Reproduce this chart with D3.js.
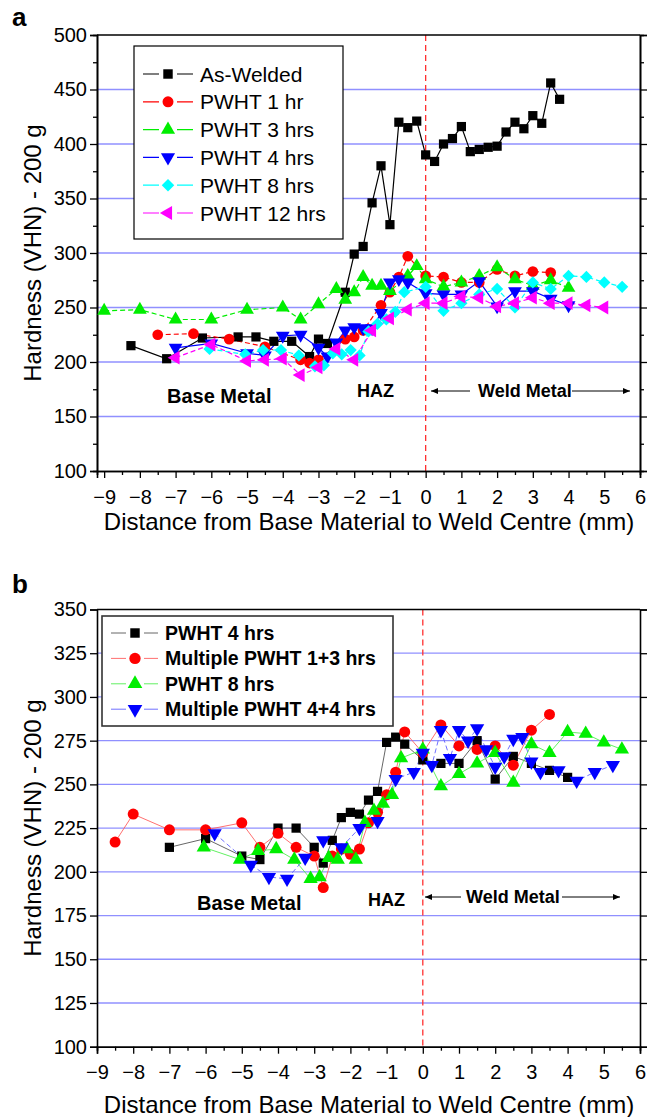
<!DOCTYPE html>
<html>
<head>
<meta charset="utf-8">
<script src="https://cdn.jsdelivr.net/npm/d3@7"></script>
<style>
  body { margin: 0; background: #fff; }
  svg { display: block; font-family: "Liberation Sans", Arial, sans-serif; }
</style>
</head>
<body>
<svg id="chart" width="656" height="1117"></svg>
<script>
// ---- panel a data: [distance mm, hardness VHN] ----
const asWelded = [[-8.25,215],[-7.25,203],[-6.25,222],[-5.25,223],[-4.75,223],[-4.25,219],[-3.75,219],[-3.25,205],[-3,221],[-2.75,217],[-2.25,264],[-2,299],[-1.75,306],[-1.5,346],[-1.25,380],[-1,326],[-0.75,420],[-0.5,415],[-0.25,421],[0,390],[0.25,384],[0.5,400],[0.75,405],[1,416],[1.25,393],[1.5,395],[1.75,397],[2,398],[2.25,411],[2.5,420],[2.75,414],[3,426],[3.25,419],[3.5,456],[3.75,441]];
const pwht1 = [[-7.5,225],[-6.5,226],[-5.5,221],[-4.5,214],[-3.5,202],[-3.25,199],[-3,202],[-2.25,221],[-2,223],[-1.75,229],[-1.25,252],[-1,264],[-0.75,278],[-0.5,297],[0,279],[0.5,278],[1,273],[1.5,273],[2,285],[2.5,279],[3,283],[3.5,282]];
const pwht3 = [[-9,247],[-8,248],[-7,239],[-6,239],[-5,248],[-4,250],[-3.5,239],[-3,253],[-2.5,267],[-2.25,257],[-2,264],[-1.75,278],[-1.5,270],[-1.25,270],[-1,265],[-0.5,279],[-0.25,288],[0,276],[0.5,269],[1,273],[1.5,279],[2,287],[2.5,276],[3,270],[3.5,275],[4,268]];
const pwht4 = [[-7,213],[-6,217],[-5,208],[-4.5,206],[-4,224],[-3.5,225],[-3,213],[-2.75,205],[-2.5,218],[-2.25,229],[-2,232],[-1.75,231],[-1.5,231],[-1.25,245],[-1,273],[-0.75,276],[-0.5,273],[0,263],[0.5,262],[1,262],[1.5,274],[2,251],[2.5,265],[3,265],[3.5,258],[4,252]];
const pwht8 = [[-6.05,212],[-5.05,207],[-4.55,211],[-4.05,211],[-3.55,206],[-3.1,196],[-2.85,197],[-2.6,208],[-2.35,207],[-2.1,211],[-1.85,206],[-1.6,228],[-1.35,235],[-1.1,239],[-0.85,246],[-0.6,264],[0,269],[0.5,247],[1,254],[1.5,262],[2,267],[2.5,250],[3,273],[3.5,267],[4,279],[4.5,278],[5,273],[5.5,269]];
const pwht12 = [[-7,204],[-6,216],[-5,201],[-4.5,202],[-4,203],[-3.5,188],[-3,195],[-2.5,212],[-2,202],[-1.5,229],[-1,240],[-0.5,248],[0,254],[0.5,254],[1,260],[1.5,259],[2,251],[2.5,254],[3,259],[3.5,254],[4,254],[4.5,252],[5,250]];

// ---- panel b data ----
const bPwht4 = [[-7,214],[-6,219],[-5,209],[-4.5,207],[-4,225],[-3.5,225],[-3,214],[-2.75,205],[-2.5,218],[-2.25,231],[-2,234],[-1.75,233],[-1.5,241],[-1.25,246],[-1,274],[-0.75,277],[-0.5,273],[0,264],[0.5,262],[1,262],[1.5,275],[2,253],[2.5,266],[3,262],[3.5,258],[4,254]];
const bMulti13 = [[-8.5,217],[-8,233],[-7,224],[-6,224],[-5,228],[-4.5,214],[-4,222],[-3.5,214],[-3,209],[-2.75,191],[-2.5,209],[-2.25,213],[-2,210],[-1.75,213],[-1.5,228],[-1.25,234],[-1,244],[-0.75,257],[-0.5,280],[0,268],[0.5,284],[1,272],[1.5,270],[2,272],[2.5,261],[3,281],[3.5,290]];
const bPwht8 = [[-6.05,214],[-5.05,207],[-4.55,212],[-4.05,213],[-3.55,207],[-3.1,196],[-2.85,197],[-2.6,208],[-2.35,207],[-2.1,213],[-1.85,207],[-1.6,228],[-1.35,235],[-1.1,239],[-0.85,244],[-0.6,265],[0,270],[0.5,249],[1,256],[1.5,262],[2,268],[2.5,251],[3,273],[3.5,268],[4,280],[4.5,279],[5,274],[5.5,270]];
const bMulti44 = [[-5.75,222],[-4.75,204],[-4.25,197],[-3.75,196],[-3.25,208],[-2.75,218],[-2.25,214],[-1.75,225],[-1.25,229],[-0.75,253],[-0.25,257],[0,268],[0.25,261],[0.5,281],[0.75,265],[1,281],[1.25,275],[1.5,282],[1.75,270],[2,260],[2.25,266],[2.5,276],[2.75,277],[3,263],[3.25,257],[3.75,258],[4.25,252],[4.75,257],[5.25,261]];

const xTicks = d3.range(-9, 7, 1);
const yTicksA = d3.range(100, 501, 50);
const yTicksB = d3.range(100, 351, 25);

const svg = d3.select("#chart");

function symbolPath(shape, size) {
  const type = shape === "circle" ? d3.symbolCircle :
    (shape === "square" || shape === "diamond") ? d3.symbolSquare : d3.symbolTriangle;
  return d3.symbol().type(type).size(size)();
}
function symbolRot(shape) {
  return shape === "down" ? 180 : shape === "left" ? -90 : shape === "diamond" ? 45 : 0;
}

function drawPanel(p) {
  const x = d3.scaleLinear().domain(p.xDomain).range([p.left, p.right]);
  const y = d3.scaleLinear().domain(p.yDomain).range([p.bottom, p.top]);
  const g = svg.append("g");

  // gridlines
  g.append("g").selectAll("line")
    .data(p.grid)
    .join("line")
    .attr("x1", p.left).attr("x2", p.right)
    .attr("y1", d => y(d)).attr("y2", d => y(d))
    .attr("stroke", "#9090ff").attr("stroke-width", 1.3);

  // weld centre line
  g.append("line")
    .attr("x1", x(0)).attr("x2", x(0))
    .attr("y1", p.top).attr("y2", p.bottom)
    .attr("stroke", "#ff3030").attr("stroke-width", 1.3)
    .attr("stroke-dasharray", "6,4");

  // axes
  g.append("g").attr("transform", `translate(${p.left},0)`)
    .call(d3.axisLeft(y).tickValues(p.yTicks).tickSize(7).tickPadding(3));
  g.append("g").attr("transform", `translate(${p.right},0)`)
    .call(d3.axisRight(y).tickValues(p.yTicks).tickSize(7).tickFormat(""));
  g.append("g").attr("transform", `translate(0,${p.bottom})`)
    .call(d3.axisBottom(x).tickValues(xTicks).tickSize(7).tickPadding(p.xPad));
  g.append("g").attr("transform", `translate(0,${p.bottom})`)
    .call(d3.axisBottom(x).tickValues(d3.range(-8.5, 6, 1)).tickSize(4).tickFormat(""));
  if (p.yMinor) {
    g.append("g").attr("transform", `translate(${p.left},0)`)
      .call(d3.axisLeft(y).tickValues(p.yMinor).tickSize(4).tickFormat(""));
    g.append("g").attr("transform", `translate(${p.right},0)`)
      .call(d3.axisRight(y).tickValues(p.yMinor).tickSize(4).tickFormat(""));
  }
  g.selectAll(".domain").attr("stroke", "#000").attr("stroke-width", 1.6);
  g.selectAll(".tick line").attr("stroke", "#000").attr("stroke-width", 1.3);
  g.selectAll(".tick text").attr("font-size", 20).attr("fill", "#000")
    .attr("font-family", "Liberation Sans, Arial, sans-serif");
  // top frame
  g.append("line").attr("x1", p.left).attr("x2", p.right)
    .attr("y1", p.top).attr("y2", p.top)
    .attr("stroke", "#000").attr("stroke-width", 1.6);

  // series
  const line = d3.line().x(d => x(d[0])).y(d => y(d[1]));
  p.series.forEach(s => {
    g.append("path").datum(s.data)
      .attr("d", line)
      .attr("fill", "none")
      .attr("stroke", s.lineColor || s.color)
      .attr("stroke-width", p.lineWidth)
      .attr("stroke-dasharray", s.dash || null);
  });
  p.series.forEach(s => {
    const sym = symbolPath(s.shape, s.size);
    const rot = symbolRot(s.shape);
    g.append("g").selectAll("path")
      .data(s.data)
      .join("path")
      .attr("d", sym)
      .attr("transform", d => `translate(${x(d[0])},${y(d[1])}) rotate(${rot})`)
      .attr("fill", s.color);
  });

  // legend
  const L = p.legend;
  g.append("rect")
    .attr("x", L.x).attr("y", L.y).attr("width", L.w).attr("height", L.h)
    .attr("fill", "#fff").attr("stroke", L.stroke).attr("stroke-width", L.strokeW);
  p.series.forEach((s, i) => {
    const cy = L.firstY + i * L.step;
    g.append("line").attr("x1", L.lineX0).attr("x2", L.lineX1)
      .attr("y1", cy).attr("y2", cy)
      .attr("stroke", s.lineColor || s.color).attr("stroke-width", p.lineWidth);
    g.append("rect").attr("x", L.markX - 9).attr("y", cy - 8).attr("width", 18).attr("height", 16).attr("fill", "#fff");
    g.append("path").attr("d", symbolPath(s.shape, s.size * 1.05))
      .attr("transform", `translate(${L.markX},${cy}) rotate(${symbolRot(s.shape)})`)
      .attr("fill", s.color);
    g.append("text").attr("x", L.textX).attr("y", cy)
      .attr("dy", "0.36em")
      .attr("font-size", L.fontSize)
      .attr("font-weight", L.bold ? "bold" : "normal")
      .text(s.name);
  });

  // axis titles
  g.append("text")
    .attr("transform", `translate(${p.yTitleX},${(p.top + p.bottom) / 2}) rotate(-90)`)
    .attr("text-anchor", "middle").attr("dy", "0.35em")
    .attr("font-size", 24)
    .text("Hardness (VHN) - 200 g");
  g.append("text")
    .attr("x", 369).attr("y", p.xTitleY)
    .attr("text-anchor", "middle").attr("dy", "0.35em")
    .attr("font-size", 24)
    .text("Distance from Base Material to Weld Centre (mm)");

  // panel letter
  g.append("text").attr("x", 12).attr("y", p.letterY)
    .attr("font-size", 26).attr("font-weight", "bold").text(p.letter);

  // region annotations
  const A = p.notes;
  g.append("text").attr("x", A.baseX).attr("y", A.baseY)
    .attr("font-size", 20).attr("font-weight", "bold").text("Base Metal");
  g.append("text").attr("x", A.hazX).attr("y", A.hazY)
    .attr("font-size", 18).attr("font-weight", "bold").text("HAZ");
  g.append("text").attr("x", A.weldX).attr("y", A.weldY)
    .attr("font-size", 18).attr("font-weight", "bold").text("Weld Metal");
  const ay = A.weldY - 6;
  [[A.arrL0, A.arrL1], [A.arrR0, A.arrR1]].forEach(([a, b]) => {
    g.append("line").attr("x1", a).attr("x2", b).attr("y1", ay).attr("y2", ay)
      .attr("stroke", "#000").attr("stroke-width", 1);
    const dir = b > a ? 1 : -1;
    g.append("path")
      .attr("d", `M${b},${ay} L${b - dir * 7},${ay - 3} L${b - dir * 7},${ay + 3} Z`)
      .attr("fill", "#000");
  });
}

drawPanel({
  letter: "a", letterY: 26,
  left: 97, right: 640, top: 35, bottom: 471,
  xDomain: [-9.2, 6], yDomain: [100, 500],
  yTicks: yTicksA, yMinor: d3.range(125, 500, 50),
  grid: [150, 200, 250, 300, 350, 400, 450],
  lineWidth: 1.2, xPad: 12,
  yTitleX: 33, xTitleY: 522,
  series: [
    { name: "As-Welded", data: asWelded, color: "#000", shape: "square", size: 85 },
    { name: "PWHT 1 hr", data: pwht1, color: "#ff0000", shape: "circle", size: 90, dash: "5,3" },
    { name: "PWHT 3 hrs", data: pwht3, color: "#00ee00", shape: "up", size: 82, dash: "5,3" },
    { name: "PWHT 4 hrs", data: pwht4, color: "#0000ff", shape: "down", size: 82 },
    { name: "PWHT 8 hrs", data: pwht8, color: "#00ffff", shape: "diamond", size: 75, dash: "5,3" },
    { name: "PWHT 12 hrs", data: pwht12, color: "#ff00ff", shape: "left", size: 82, dash: "5,3" }
  ],
  legend: { x: 134, y: 46, w: 209, h: 193, stroke: "#000", strokeW: 1.2,
    firstY: 74, step: 27.8, lineX0: 143, lineX1: 193, markX: 168, textX: 200, fontSize: 21, bold: false },
  notes: { baseX: 167, baseY: 403, hazX: 357, hazY: 397, weldX: 478, weldY: 397,
    arrL0: 470, arrL1: 431, arrR0: 572, arrR1: 630 }
});

drawPanel({
  letter: "b", letterY: 593,
  left: 97, right: 640, top: 609.5, bottom: 1046.7,
  xDomain: [-9, 6], yDomain: [100, 350],
  yTicks: yTicksB, yMinor: null,
  grid: [125, 150, 175, 200, 225, 250, 275, 300, 325],
  lineWidth: 0.9, xPad: 11,
  yTitleX: 33, xTitleY: 1105,
  series: [
    { name: "PWHT 4 hrs", data: bPwht4, color: "#000", lineColor: "#555", shape: "square", size: 85 },
    { name: "Multiple PWHT 1+3 hrs", data: bMulti13, color: "#ff0000", lineColor: "#ff6060", shape: "circle", size: 95 },
    { name: "PWHT 8 hrs", data: bPwht8, color: "#00ee00", lineColor: "#50ee50", shape: "up", size: 88 },
    { name: "Multiple PWHT 4+4 hrs", data: bMulti44, color: "#0000ff", lineColor: "#6060ff", shape: "down", size: 88, dash: "5,3" }
  ],
  legend: { x: 102, y: 616, w: 291, h: 110, stroke: "#333", strokeW: 1.6,
    firstY: 633, step: 25.4, lineX0: 111, lineX1: 158, markX: 135, textX: 165, fontSize: 19.5, bold: true },
  notes: { baseX: 197, baseY: 910, hazX: 368, hazY: 906, weldX: 466, weldY: 903,
    arrL0: 461, arrL1: 425, arrR0: 562, arrR1: 620 }
});
</script>
</body>
</html>
